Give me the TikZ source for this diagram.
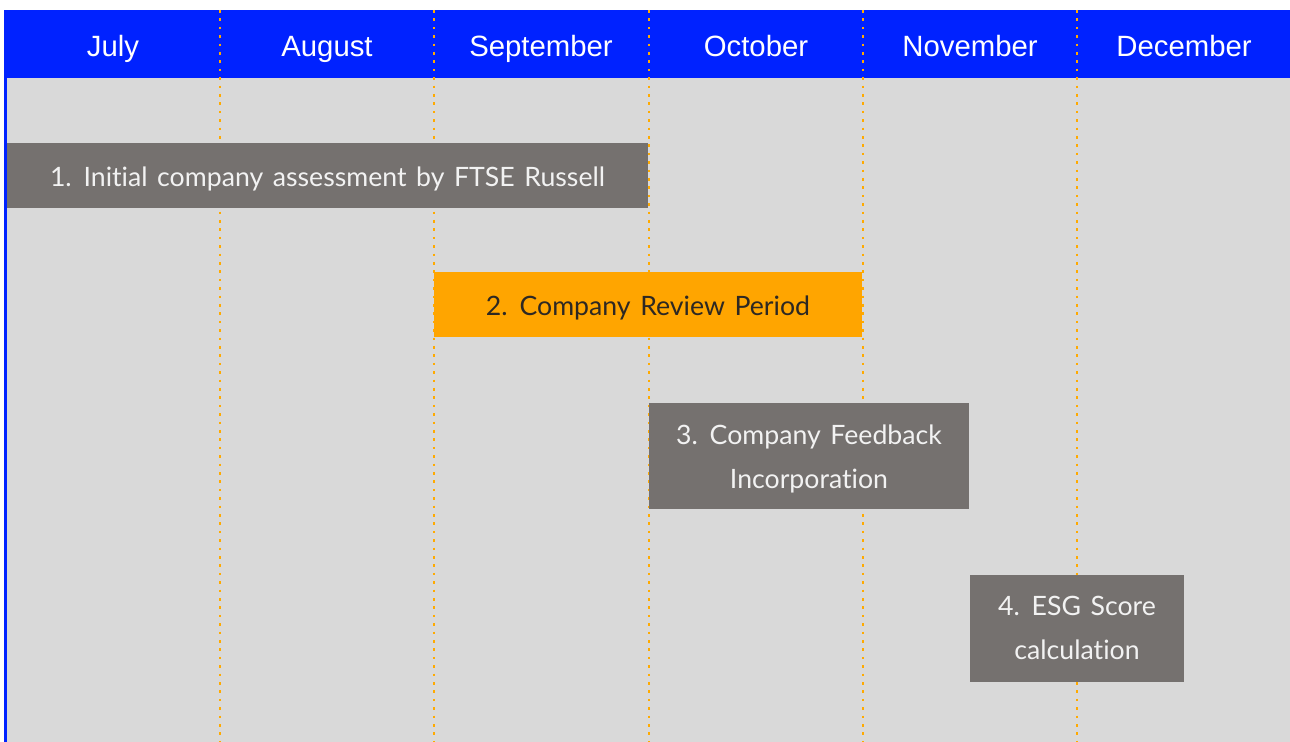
\documentclass[tikz,border=0pt]{standalone}
\usepackage{fontspec}
\setmainfont{Lato}[Ligatures=NoCommon, WordSpace=1.4]
\newfontfamily\hdrfont{Liberation Sans}
\definecolor{hdrblue}{RGB}{0,34,255}
\definecolor{bggray}{RGB}{217,217,217}
\definecolor{boxgray}{RGB}{117,113,111}
\definecolor{boxorange}{RGB}{255,165,0}
\definecolor{dotorange}{RGB}{255,170,0}
\definecolor{darktext}{RGB}{45,40,35}
\definecolor{lighttext}{RGB}{242,242,242}
\tikzset{
  month/.style={text=white, font=\hdrfont\fontsize{22}{26}\selectfont, anchor=base, inner sep=0pt},
  grid/.style={draw=dotorange, line width=1.9pt, dash pattern=on 1.9pt off 4.4pt},
  taskbox/.style={fill=boxgray, inner sep=0pt},
  orangebox/.style={taskbox, fill=boxorange},
  tasktext/.style={text=lighttext, inner sep=0pt, align=center, anchor=base,
    font=\fontsize{20}{32.6}\selectfont},
  darktasktext/.style={tasktext, text=darktext},
}
\begin{document}
\begin{tikzpicture}[x=0.75pt,y=-0.75pt]
\useasboundingbox (0,0) rectangle (1290,742);
% background
\fill[bggray] (7,78) rectangle (1290,742);
\fill[hdrblue] (4,10) rectangle (1290,78);
\fill[hdrblue] (4,10) rectangle (7,742);
% month separators
\foreach \x/\n in {220/s1,434/s2,649/s3,863/s4,1077/s5}{
  \coordinate (\n top) at (\x,10);
  \coordinate (\n bot) at (\x,742);
  \draw[grid] (\n top) -- (\n bot);
}
% months
\node[month] (jul) at (113,56.5) {July};
\node[month] (aug) at (327,56.5) {August};
\node[month] (sep) at (541,56.5) {September};
\node[month] (oct) at (756,56.5) {October};
\node[month] (nov) at (970,56.5) {November};
\node[month] (dec) at (1184,56.5) {December};
% tasks
\node[taskbox, minimum width=480.75pt, minimum height=48.75pt] (t1) at (327.5,175.5) {};
\node[tasktext] (t1text) at ([yshift=-7.9pt]t1.center)
  {1. Initial company assessment by FTSE Russell};
\node[orangebox, minimum width=321pt, minimum height=48.75pt] (t2) at (648,304.5) {};
\node[darktasktext] (t2text) at ([yshift=-7.9pt]t2.center)
  {2. Company Review Period};
\node[taskbox, minimum width=240pt, minimum height=79.5pt] (t3) at (809,456) {};
\node[tasktext] (t3text) at ([yshift=-24pt]t3.center)
  {3. Company Feedback\\Incorporation};
\node[taskbox, minimum width=160.5pt, minimum height=80.25pt] (t4) at (1077,628.5) {};
\node[tasktext] (t4text) at ([yshift=-22.9pt]t4.center)
  {4. ESG Score\\calculation};
\end{tikzpicture}
\end{document}
